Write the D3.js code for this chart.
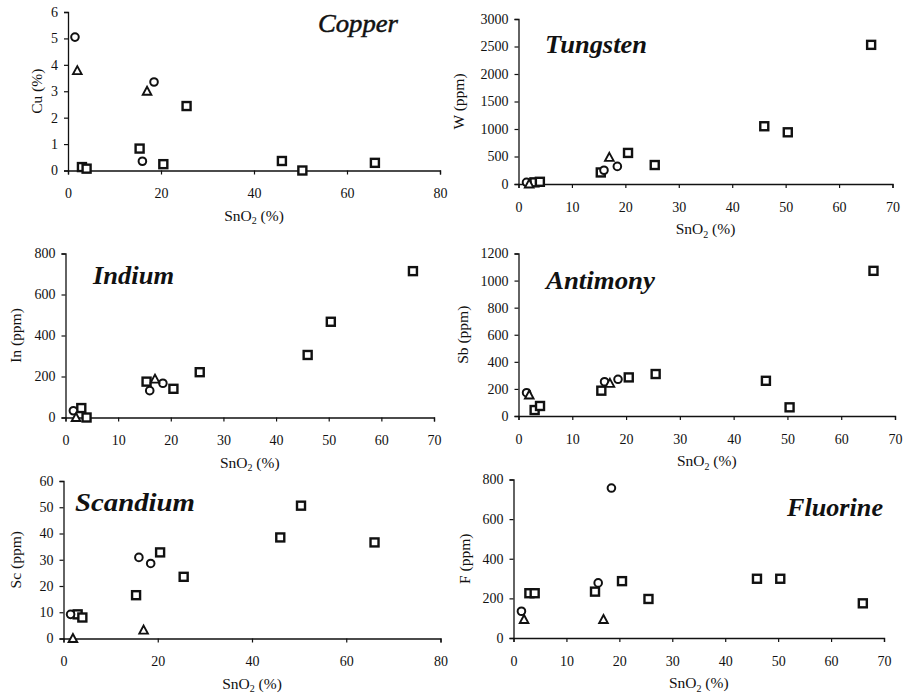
<!DOCTYPE html>
<html><head><meta charset="utf-8">
<script src="https://cdn.jsdelivr.net/npm/d3@7"></script>
<style>
html,body{margin:0;padding:0;background:#fff;}
svg{display:block;font-family:"Liberation Serif","Times New Roman",serif;}
</style></head>
<body><svg id="chart" width="903" height="695"></svg>
<script>
// SnO2 (%) of the samples, by symbol
const sno2Circle   = [1.5, 16, 18.5];
const sno2Triangle = [2, 17];
const sno2Square   = [3, 4, 15.4, 20.5, 25.5, 46, 50.4, 66];

// Copper (%)
const cuCircle   = [5.05, 0.35, 3.35];
const cuTriangle = [3.78, 3.0];
const cuSquare   = [0.13, 0.07, 0.83, 0.24, 2.44, 0.36, 0.0, 0.29];
// Tungsten (ppm)
const wCircle   = [30, 250, 320];
const wTriangle = [0, 485];
const wSquare   = [30, 40, 210, 565, 345, 1050, 940, 2530];
// Indium (ppm)
const inCircle   = [33, 131, 167];
const inTriangle = [0, 187];
const inSquare   = [46, 0, 175, 140, 221, 305, 467, 714];
// Antimony (ppm)
const sbCircle   = [172, 253, 271];
const sbTriangle = [155, 241];
const sbSquare   = [44, 74, 187, 285, 310, 260, 64, 1072];
// Scandium (ppm)
const scCircle   = [9.2, 30.9, 28.6];
const scTriangle = [0, 3.2];
const scSquare   = [9.2, 8.0, 16.5, 32.8, 23.5, 38.5, 50.6, 36.6];
// Fluorine (ppm)
const fCircle   = [135, 278, 757];
const fTriangle = [93, 93];
const fSquare   = [226, 226, 234, 287, 197, 299, 299, 175];

// axis tick values
const xTicks80 = [0, 20, 40, 60, 80];
const xTicks70 = [0, 10, 20, 30, 40, 50, 60, 70];
const cuTicks = [0, 1, 2, 3, 4, 5, 6];
const wTicks  = [0, 500, 1000, 1500, 2000, 2500, 3000];
const inTicks = [0, 200, 400, 600, 800];
const sbTicks = [0, 200, 400, 600, 800, 1000, 1200];
const scTicks = [0, 10, 20, 30, 40, 50, 60];
const fTicks  = [0, 200, 400, 600, 800];

const panels = [
  {title:"Copper", ylab:"Cu (%)", c:cuCircle, t:cuTriangle, s:cuSquare, xt:xTicks80, yt:cuTicks,
   box:{x0:68, x1:440, y0:170.5, y1:12}, ylx:37, tt:{x:318, y:32, w:80, bold:false}},
  {title:"Tungsten", ylab:"W (ppm)", c:wCircle, t:wTriangle, s:wSquare, xt:xTicks70, yt:wTicks,
   box:{x0:518.5, x1:892.5, y0:184, y1:19}, ylx:459, tt:{x:545, y:53, w:102, bold:true}},
  {title:"Indium", ylab:"In (ppm)", c:inCircle, t:inTriangle, s:inSquare, xt:xTicks70, yt:inTicks,
   box:{x0:65.5, x1:434, y0:417.5, y1:253.5}, ylx:16, tt:{x:93, y:284, w:81, bold:true}},
  {title:"Antimony", ylab:"Sb (ppm)", c:sbCircle, t:sbTriangle, s:sbSquare, xt:xTicks70, yt:sbTicks,
   box:{x0:518.5, x1:895, y0:416, y1:253.5}, ylx:463, tt:{x:546, y:289, w:109, bold:true}},
  {title:"Scandium", ylab:"Sc (ppm)", c:scCircle, t:scTriangle, s:scSquare, xt:xTicks80, yt:scTicks,
   box:{x0:63.5, x1:440.5, y0:638.5, y1:481}, ylx:16, tt:{x:75, y:511, w:120, bold:true}},
  {title:"Fluorine", ylab:"F (ppm)", c:fCircle, t:fTriangle, s:fSquare, xt:xTicks70, yt:fTicks,
   box:{x0:513.5, x1:884, y0:638, y1:479.5}, ylx:465, tt:{x:787, y:516, w:96, bold:true}}
];

const svg = d3.select("#chart");

panels.forEach(p => {
  const b = p.box;
  const x = d3.scaleLinear().domain([0, d3.max(p.xt)]).range([b.x0, b.x1]);
  const y = d3.scaleLinear().domain([0, d3.max(p.yt)]).range([b.y0, b.y1]);
  const g = svg.append("g");

  // x axis
  const xa = g.append("g").attr("transform", `translate(0,${b.y0})`)
    .call(d3.axisBottom(x).tickValues(p.xt).tickFormat(d3.format("d")).tickSizeOuter(0).tickSize(4).tickPadding(14));
  // y axis
  const ya = g.append("g").attr("transform", `translate(${b.x0},0)`)
    .call(d3.axisLeft(y).tickValues(p.yt).tickFormat(d3.format("d")).tickSizeOuter(0).tickSize(4).tickPadding(6));
  [xa, ya].forEach(a => {
    a.attr("font-family", null).attr("font-size", null);
    a.select(".domain").attr("stroke", "#111").attr("stroke-width", 1.3);
    a.selectAll(".tick line").attr("stroke", "#111").attr("stroke-width", 1.2);
    a.selectAll(".tick text").attr("fill", "#111")
      .style("font-family", "'Liberation Serif', serif").style("font-size", "14px");
  });

  // x label SnO2 (%)
  const xl = g.append("text")
    .attr("x", (b.x0 + b.x1) / 2).attr("y", b.y0 + 50)
    .attr("text-anchor", "middle").attr("fill", "#111")
    .style("font-size", "15.5px");
  xl.append("tspan").text("SnO");
  xl.append("tspan").attr("dy", 3.5).style("font-size", "10px").text("2");
  xl.append("tspan").attr("dy", -3.5).text(" (%)");

  // y label
  g.append("text")
    .attr("transform", `translate(${p.ylx},${(b.y0 + b.y1) / 2}) rotate(-90)`)
    .attr("text-anchor", "middle").attr("dy", "0.35em").attr("fill", "#111")
    .style("font-size", "15.5px").text(p.ylab);

  // title
  g.append("text")
    .attr("x", p.tt.x).attr("y", p.tt.y)
    .attr("fill", "#111")
    .attr("stroke", p.tt.bold ? "none" : "#111").attr("stroke-width", p.tt.bold ? 0 : 0.5)
    .attr("textLength", p.tt.w).attr("lengthAdjust", "spacingAndGlyphs")
    .style("font-size", "26px").style("font-style", "italic")
    .style("font-weight", p.tt.bold ? "bold" : "normal")
    .text(p.title);

  // squares
  const sq = sno2Square.map((v, i) => [v, p.s[i]]);
  g.selectAll(".sq").data(sq).enter().append("rect")
    .attr("x", d => x(d[0]) - 4).attr("y", d => y(d[1]) - 4)
    .attr("width", 8).attr("height", 8)
    .attr("fill", "#fff").attr("stroke", "#111").attr("stroke-width", 2.4);
  // circles
  const ci = sno2Circle.map((v, i) => [v, p.c[i]]);
  g.selectAll(".ci").data(ci).enter().append("circle")
    .attr("cx", d => x(d[0])).attr("cy", d => y(d[1])).attr("r", 3.8)
    .attr("fill", "#fff").attr("stroke", "#111").attr("stroke-width", 2);
  // triangles
  const tr = sno2Triangle.map((v, i) => [v, p.t[i]]);
  g.selectAll(".tr").data(tr).enter().append("path")
    .attr("transform", d => `translate(${x(d[0])},${y(d[1])})`)
    .attr("d", "M0,-4.5L4.3,3.5L-4.3,3.5Z")
    .attr("fill", "#fff").attr("stroke", "#111").attr("stroke-width", 1.9)
    .attr("stroke-linejoin", "miter");
});
</script></body></html>
